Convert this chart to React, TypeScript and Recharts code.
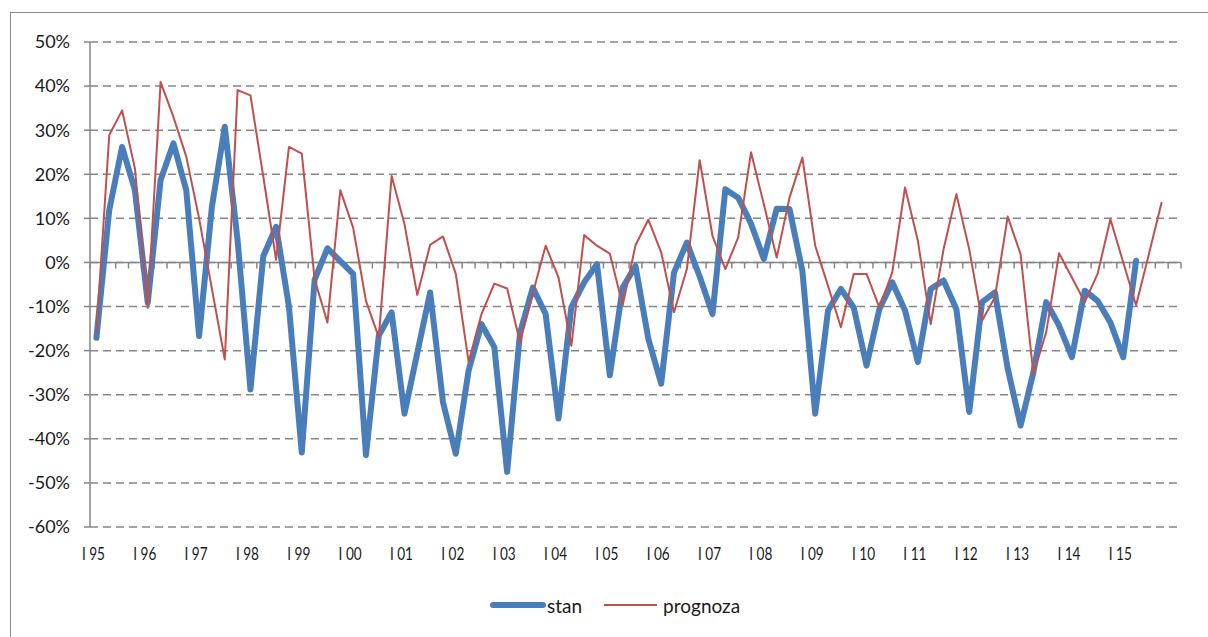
import React from "react";
import {
  LineChart,
  Line,
  XAxis,
  YAxis,
  CartesianGrid,
  ReferenceLine,
  Legend,
} from "recharts";

// Quarterly categories: I 95 ... IV 15, plus one trailing empty slot
const years = [
  "95", "96", "97", "98", "99", "00", "01", "02", "03", "04", "05",
  "06", "07", "08", "09", "10", "11", "12", "13", "14", "15",
];
const quarters = ["I", "II", "III", "IV"];

// Values in percent
const stan = [
  -17.1, 11.9, 26.2, 16.4, -9.2, 18.7, 27.0, 16.4, -16.7, 12.7, 30.8, 5.0,
  -28.8, 1.4, 8.1, -10.0, -43.1, -3.9, 3.2, 0.3, -2.6, -43.7, -16.6, -11.3,
  -34.3, -20.5, -6.8, -31.7, -43.4, -24.5, -14.0, -19.2, -47.5, -16.0, -5.7, -11.7,
  -35.4, -10.2, -4.5, -0.4, -25.6, -5.7, -0.8, -17.3, -27.5, -2.3, 4.5, -3.2,
  -11.7, 16.6, 14.7, 8.8, 0.8, 12.2, 12.1, -1.9, -34.3, -10.9, -6.0, -10.2,
  -23.4, -10.6, -4.5, -10.9, -22.6, -6.0, -4.1, -10.6, -33.9, -9.0, -6.8, -24.1,
  -37.0, -24.9, -9.0, -14.3, -21.5, -6.4, -8.7, -13.6, -21.5, 0.4,
];

const prognoza = [
  -16.0, 28.9, 34.5, 21.3, -10.3, 40.9, 33.0, 24.0, 10.0, -6.0, -22.0, 39.1,
  37.9, 19.5, 0.6, 26.2, 24.7, -3.8, -13.6, 16.4, 7.9, -8.7, -17.0, 19.6,
  8.7, -7.4, 4.0, 5.9, -2.6, -22.6, -11.7, -4.8, -5.9, -18.1, -7.0, 3.8,
  -3.4, -18.9, 6.2, 3.8, 2.0, -9.7, 3.9, 9.7, 2.3, -11.3, -1.5, 23.2,
  6.0, -1.5, 5.7, 25.0, 13.2, 1.1, 14.7, 23.8, 3.8, -5.3, -14.7, -2.6,
  -2.6, -10.2, -2.3, 17.0, 4.9, -14.0, 3.0, 15.5, 3.0, -13.2, -7.9, 10.4,
  1.9, -25.3, -15.8, 2.1, -3.4, -9.0, -2.6, 9.8, 0.0, -9.7, 1.9, 13.7,
];

const yTicks = [-60, -50, -40, -30, -20, -10, 0, 10, 20, 30, 40, 50];

const AXIS_GRAY = "#868686";
const STAN_COLOR = "#4A7EBB";
const PROGNOZA_COLOR = "#C0504D";
const TEXT_COLOR = "#1a1a1a";
const FONT = "Lato, 'Open Sans', sans-serif";

const categories = [
  ...years.flatMap((y) => quarters.map((q) => `${q} ${y}`)),
  "",
];

const chartData = categories.map((q, i) => ({
  q,
  stan: i < stan.length ? stan[i] : null,
  prognoza: i < prognoza.length ? prognoza[i] : null,
}));

// Solid 0% axis with small tick marks between the categories
function ZeroAxis(props: any) {
  const { x1, x2, y1 } = props;
  const step = (x2 - x1) / chartData.length;
  const marks = [];
  for (let k = 0; k <= chartData.length; k++) {
    const x = x1 + k * step;
    marks.push(
      <line key={k} x1={x} x2={x} y1={y1} y2={y1 + 6} stroke={AXIS_GRAY} strokeWidth={1.5} />
    );
  }
  return (
    <g>
      <line x1={x1} x2={x2} y1={y1} y2={y1} stroke={AXIS_GRAY} strokeWidth={1.5} />
      {marks}
    </g>
  );
}

// Category labels are set in a narrow face in the original
function QuarterTick(props: any) {
  const { x, y, payload } = props;
  return (
    <g transform={`translate(${x - 3},${y})`}>
      <text
        transform="scale(0.8,1)"
        textAnchor="middle"
        dy="0.71em"
        fontSize={17}
        fontFamily={FONT}
        fill={TEXT_COLOR}
      >
        {payload.value}
      </text>
    </g>
  );
}

function LegendContent() {
  return (
    <div
      style={{
        display: "flex",
        alignItems: "center",
        height: 60,
        paddingLeft: 490,
        paddingBottom: 4,
        boxSizing: "border-box",
        fontFamily: FONT,
        fontSize: 19,
        color: TEXT_COLOR,
      }}
    >
      <svg width={56} height={10}>
        <line x1={3} x2={53} y1={5} y2={5} stroke={STAN_COLOR} strokeWidth={6} strokeLinecap="round" />
      </svg>
      <span style={{ marginLeft: 1 }}>stan</span>
      <svg width={54} height={10} style={{ marginLeft: 22 }}>
        <line x1={0} x2={53} y1={5} y2={5} stroke={PROGNOZA_COLOR} strokeWidth={2} />
      </svg>
      <span style={{ marginLeft: 5 }}>prognoza</span>
    </div>
  );
}

export default function App() {
  return (
    <div style={{ position: "absolute", left: 0, top: 0, width: 1208, height: 637, background: "#fff" }}>
      {/* chart frame */}
      <div
        style={{
          position: "absolute",
          left: 10,
          top: 12,
          right: 0,
          bottom: 0,
          borderLeft: "1.5px solid #8c8c8c",
          borderTop: "1.5px solid #8c8c8c",
        }}
      />
      <LineChart
        width={1208}
        height={637}
        data={chartData}
        margin={{ top: 42, right: 27, bottom: 0, left: 0 }}
        style={{ position: "absolute", left: 0, top: 0 }}
      >
        <CartesianGrid
          vertical={false}
          stroke={AXIS_GRAY}
          strokeWidth={1.5}
          strokeDasharray="8 5"
        />
        <XAxis
          dataKey="q"
          scale="band"
          interval={3}
          height={50}
          tickLine={false}
          axisLine={false}
          tickSize={0}
          tickMargin={21}
          tick={<QuarterTick />}
        />
        <YAxis
          type="number"
          domain={[-60, 50]}
          ticks={yTicks}
          width={90}
          interval={0}
          tickFormatter={(v: number) => `${v}%`}
          axisLine={{ stroke: AXIS_GRAY, strokeWidth: 1.5 }}
          tickLine={{ stroke: AXIS_GRAY, strokeWidth: 1.5 }}
          tickSize={6}
          tickMargin={14}
          tick={{ fill: TEXT_COLOR, fontSize: 18, fontFamily: FONT }}
        />
        <ReferenceLine y={0} shape={ZeroAxis} />
        <Line
          type="linear"
          dataKey="stan"
          stroke={STAN_COLOR}
          strokeWidth={6}
          strokeLinecap="round"
          strokeLinejoin="round"
          dot={false}
          activeDot={false}
          isAnimationActive={false}
        />
        <Line
          type="linear"
          dataKey="prognoza"
          stroke={PROGNOZA_COLOR}
          strokeWidth={2}
          strokeLinejoin="round"
          dot={false}
          activeDot={false}
          isAnimationActive={false}
        />
        <Legend verticalAlign="bottom" content={() => <LegendContent />} />
      </LineChart>
    </div>
  );
}
